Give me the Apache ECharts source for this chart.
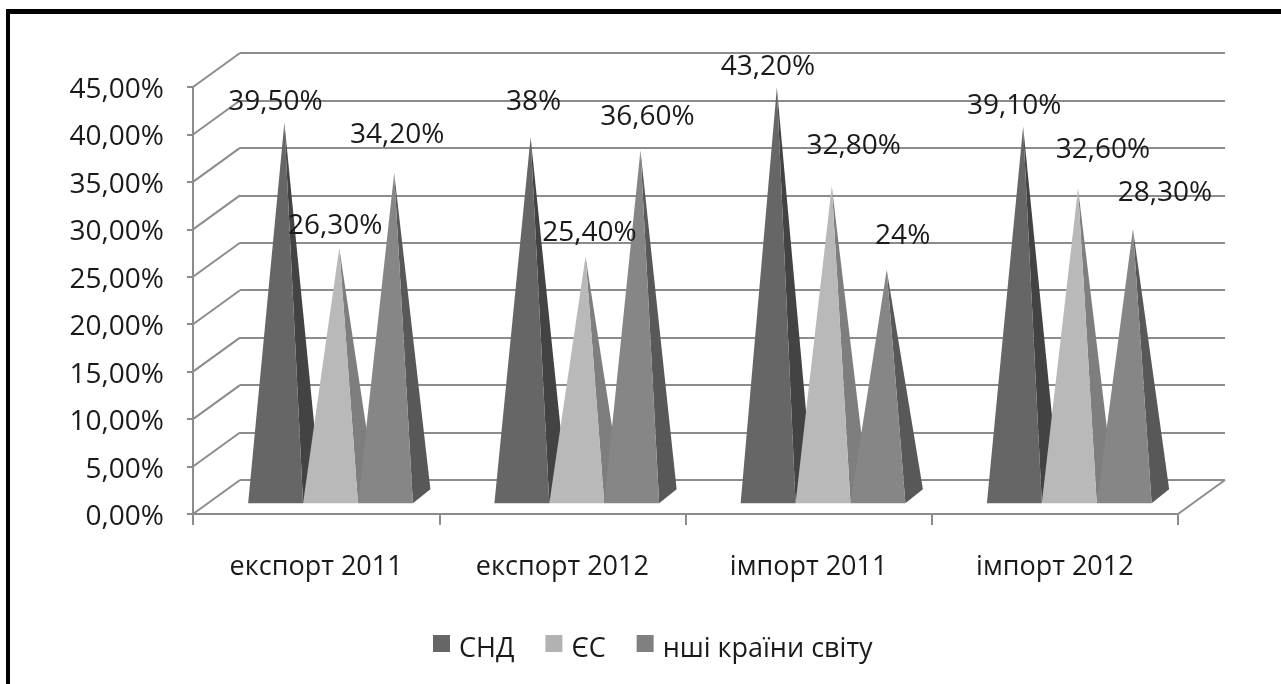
<!DOCTYPE html>
<html>
<head>
<meta charset="utf-8">
<title>експорт / імпорт</title>
<style>
    html, body { margin: 0; padding: 0; background: #fff; }
    #chart { width: 1281px; height: 684px; }
</style>
<script src="https://cdn.jsdelivr.net/npm/echarts@6/dist/echarts.min.js"></script>
</head>
<body>
<div id="chart"></div>
<script>
var categories = ['експорт 2011', 'експорт 2012', 'імпорт 2011', 'імпорт 2012'];
var seriesNames = ['СНД', 'ЄС', 'нші країни світу'];
var cisValues = [39.5, 38, 43.2, 39.1];
var euValues = [26.3, 25.4, 32.8, 32.6];
var otherValues = [34.2, 36.6, 24, 28.3];
var yTicks = [0, 5, 10, 15, 20, 25, 30, 35, 40, 45];

// per series: front face, side face
var frontColors = ['#666666', '#b9b9b9', '#868686'];
var sideColors = ['#434343', '#7e7e7e', '#585858'];
var legendColors = ['#666666', '#b2b2b2', '#808080'];

// labels were moved by hand in the original, offset from the tip of each pyramid
var labelShift = [
    [[-9, -21], [3, -35], [-9, -21], [-9, -20]],
    [[-4, -22], [4, -23], [22, -40], [25, -38]],
    [[3, -38], [7, -33], [16, -34], [32, -36]]
];

var FONT = '"Open Sans", "Noto Sans", sans-serif';
var GRID_COLOR = '#8c8c8c';
var depthX = 47, depthY = 34;

function pct(v) {
    if (v % 1 === 0) return v + '%';
    return v.toFixed(2).replace('.', ',') + '%';
}

function pyramidSeries(idx, values) {
    return {
        name: seriesNames[idx],
        type: 'custom',
        xAxisIndex: 0,
        yAxisIndex: 0,
        itemStyle: { color: legendColors[idx] },
        encode: { x: 0, y: 1 },
        data: values.map(function(v, i) { return [i, v]; }),
        renderItem: function(params, api) {
            var base = api.coord([api.value(0), 0]);
            var top = api.coord([api.value(0), api.value(1)]);
            var band = api.size([1, 0])[0];
            var w = band * 0.223;
            var x0 = base[0] - band * 0.276 + w * idx;
            var y0 = base[1] - 10.7;
            var tip = [x0 + w / 2 + 8.75, top[1] - 16.5];
            var shift = labelShift[idx][params.dataIndex];
            return {
                type: 'group',
                children: [{
                    type: 'polygon',
                    shape: { points: [[x0 + w, y0], [x0 + w + 17.5, y0 - 14], tip] },
                    style: { fill: sideColors[idx] }
                }, {
                    type: 'polygon',
                    shape: { points: [[x0, y0], [x0 + w, y0], tip] },
                    style: { fill: frontColors[idx] }
                }, {
                    type: 'text',
                    z2: 100,
                    style: {
                        text: pct(api.value(1)),
                        x: tip[0] + shift[0],
                        y: tip[1] + shift[1],
                        align: 'center',
                        verticalAlign: 'middle',
                        font: '28px ' + FONT,
                        fill: '#1a1a1a'
                    }
                }]
            };
        }
    };
}

// diagonal lines from the value axis back to the wall, and the right edge of the floor
var wallSeries = {
    type: 'custom',
    xAxisIndex: 0,
    yAxisIndex: 0,
    silent: true,
    encode: { y: 0 },
    data: yTicks.map(function(v) { return [v]; }),
    renderItem: function(params, api) {
        var p = api.coord([0, api.value(0)]);
        var x = params.coordSys.x;
        var lineStyle = { stroke: GRID_COLOR, lineWidth: 2 };
        var kids = [{
            type: 'line',
            shape: { x1: x, y1: p[1], x2: x + depthX, y2: p[1] - depthY },
            style: lineStyle
        }];
        if (api.value(0) === 0) {
            var xr = x + params.coordSys.width;
            kids.push({
                type: 'line',
                shape: { x1: xr, y1: p[1], x2: xr + depthX, y2: p[1] - depthY },
                style: lineStyle
            });
        }
        return { type: 'group', children: kids };
    }
};

var myChart = echarts.init(document.getElementById('chart'), null, { renderer: 'canvas' });

var option = {
    animation: false,
    backgroundColor: '#fff',
    textStyle: { fontFamily: FONT },
    graphic: [
        { type: 'rect', shape: { x: 6, y: 9, width: 1275, height: 5 }, style: { fill: '#000' } },
        { type: 'rect', shape: { x: 6, y: 9, width: 4, height: 675 }, style: { fill: '#000' } }
    ],
    grid: [
        { left: 193, top: 87, width: 985, height: 427 },
        { left: 240, top: 53, width: 985, height: 427 }
    ],
    xAxis: [{
        type: 'category',
        gridIndex: 0,
        data: categories,
        axisLine: { lineStyle: { color: GRID_COLOR, width: 2 } },
        axisTick: { show: true, length: 11, lineStyle: { color: GRID_COLOR, width: 2 } },
        axisLabel: { margin: 40, fontSize: 27, color: '#1a1a1a', fontFamily: FONT }
    }, {
        type: 'category',
        gridIndex: 1,
        show: false,
        data: categories
    }],
    yAxis: [{
        type: 'value',
        gridIndex: 0,
        min: yTicks[0],
        max: yTicks[yTicks.length - 1],
        interval: 5,
        axisLine: { show: true, lineStyle: { color: GRID_COLOR, width: 2 } },
        axisTick: { show: true, length: 6, lineStyle: { color: GRID_COLOR, width: 2 } },
        splitLine: { show: false },
        axisLabel: {
            margin: 29,
            formatter: function(v) { return '{v|' + v.toFixed(2).replace('.', ',') + '%}'; },
            rich: {
                v: { fontSize: 28, color: '#1a1a1a', fontFamily: FONT, padding: [6, 0, 0, 0] }
            }
        }
    }, {
        type: 'value',
        gridIndex: 1,
        min: yTicks[0],
        max: yTicks[yTicks.length - 1],
        interval: 5,
        axisLine: { show: false },
        axisTick: { show: false },
        axisLabel: { show: false },
        splitLine: { show: true, lineStyle: { color: GRID_COLOR, width: 2 } }
    }],
    legend: {
        data: seriesNames,
        left: 428,
        top: 630,
        icon: 'rect',
        itemWidth: 17,
        itemHeight: 17,
        itemGap: 31,
        formatter: function(name) { return '{t|' + name + '}'; },
        textStyle: {
            rich: {
                t: { fontSize: 27, color: '#1a1a1a', fontFamily: FONT, padding: [12, 0, 0, 4] }
            }
        }
    },
    series: [
        wallSeries,
        pyramidSeries(0, cisValues),
        pyramidSeries(1, euValues),
        pyramidSeries(2, otherValues)
    ]
};

myChart.setOption(option);
</script>
</body>
</html>
